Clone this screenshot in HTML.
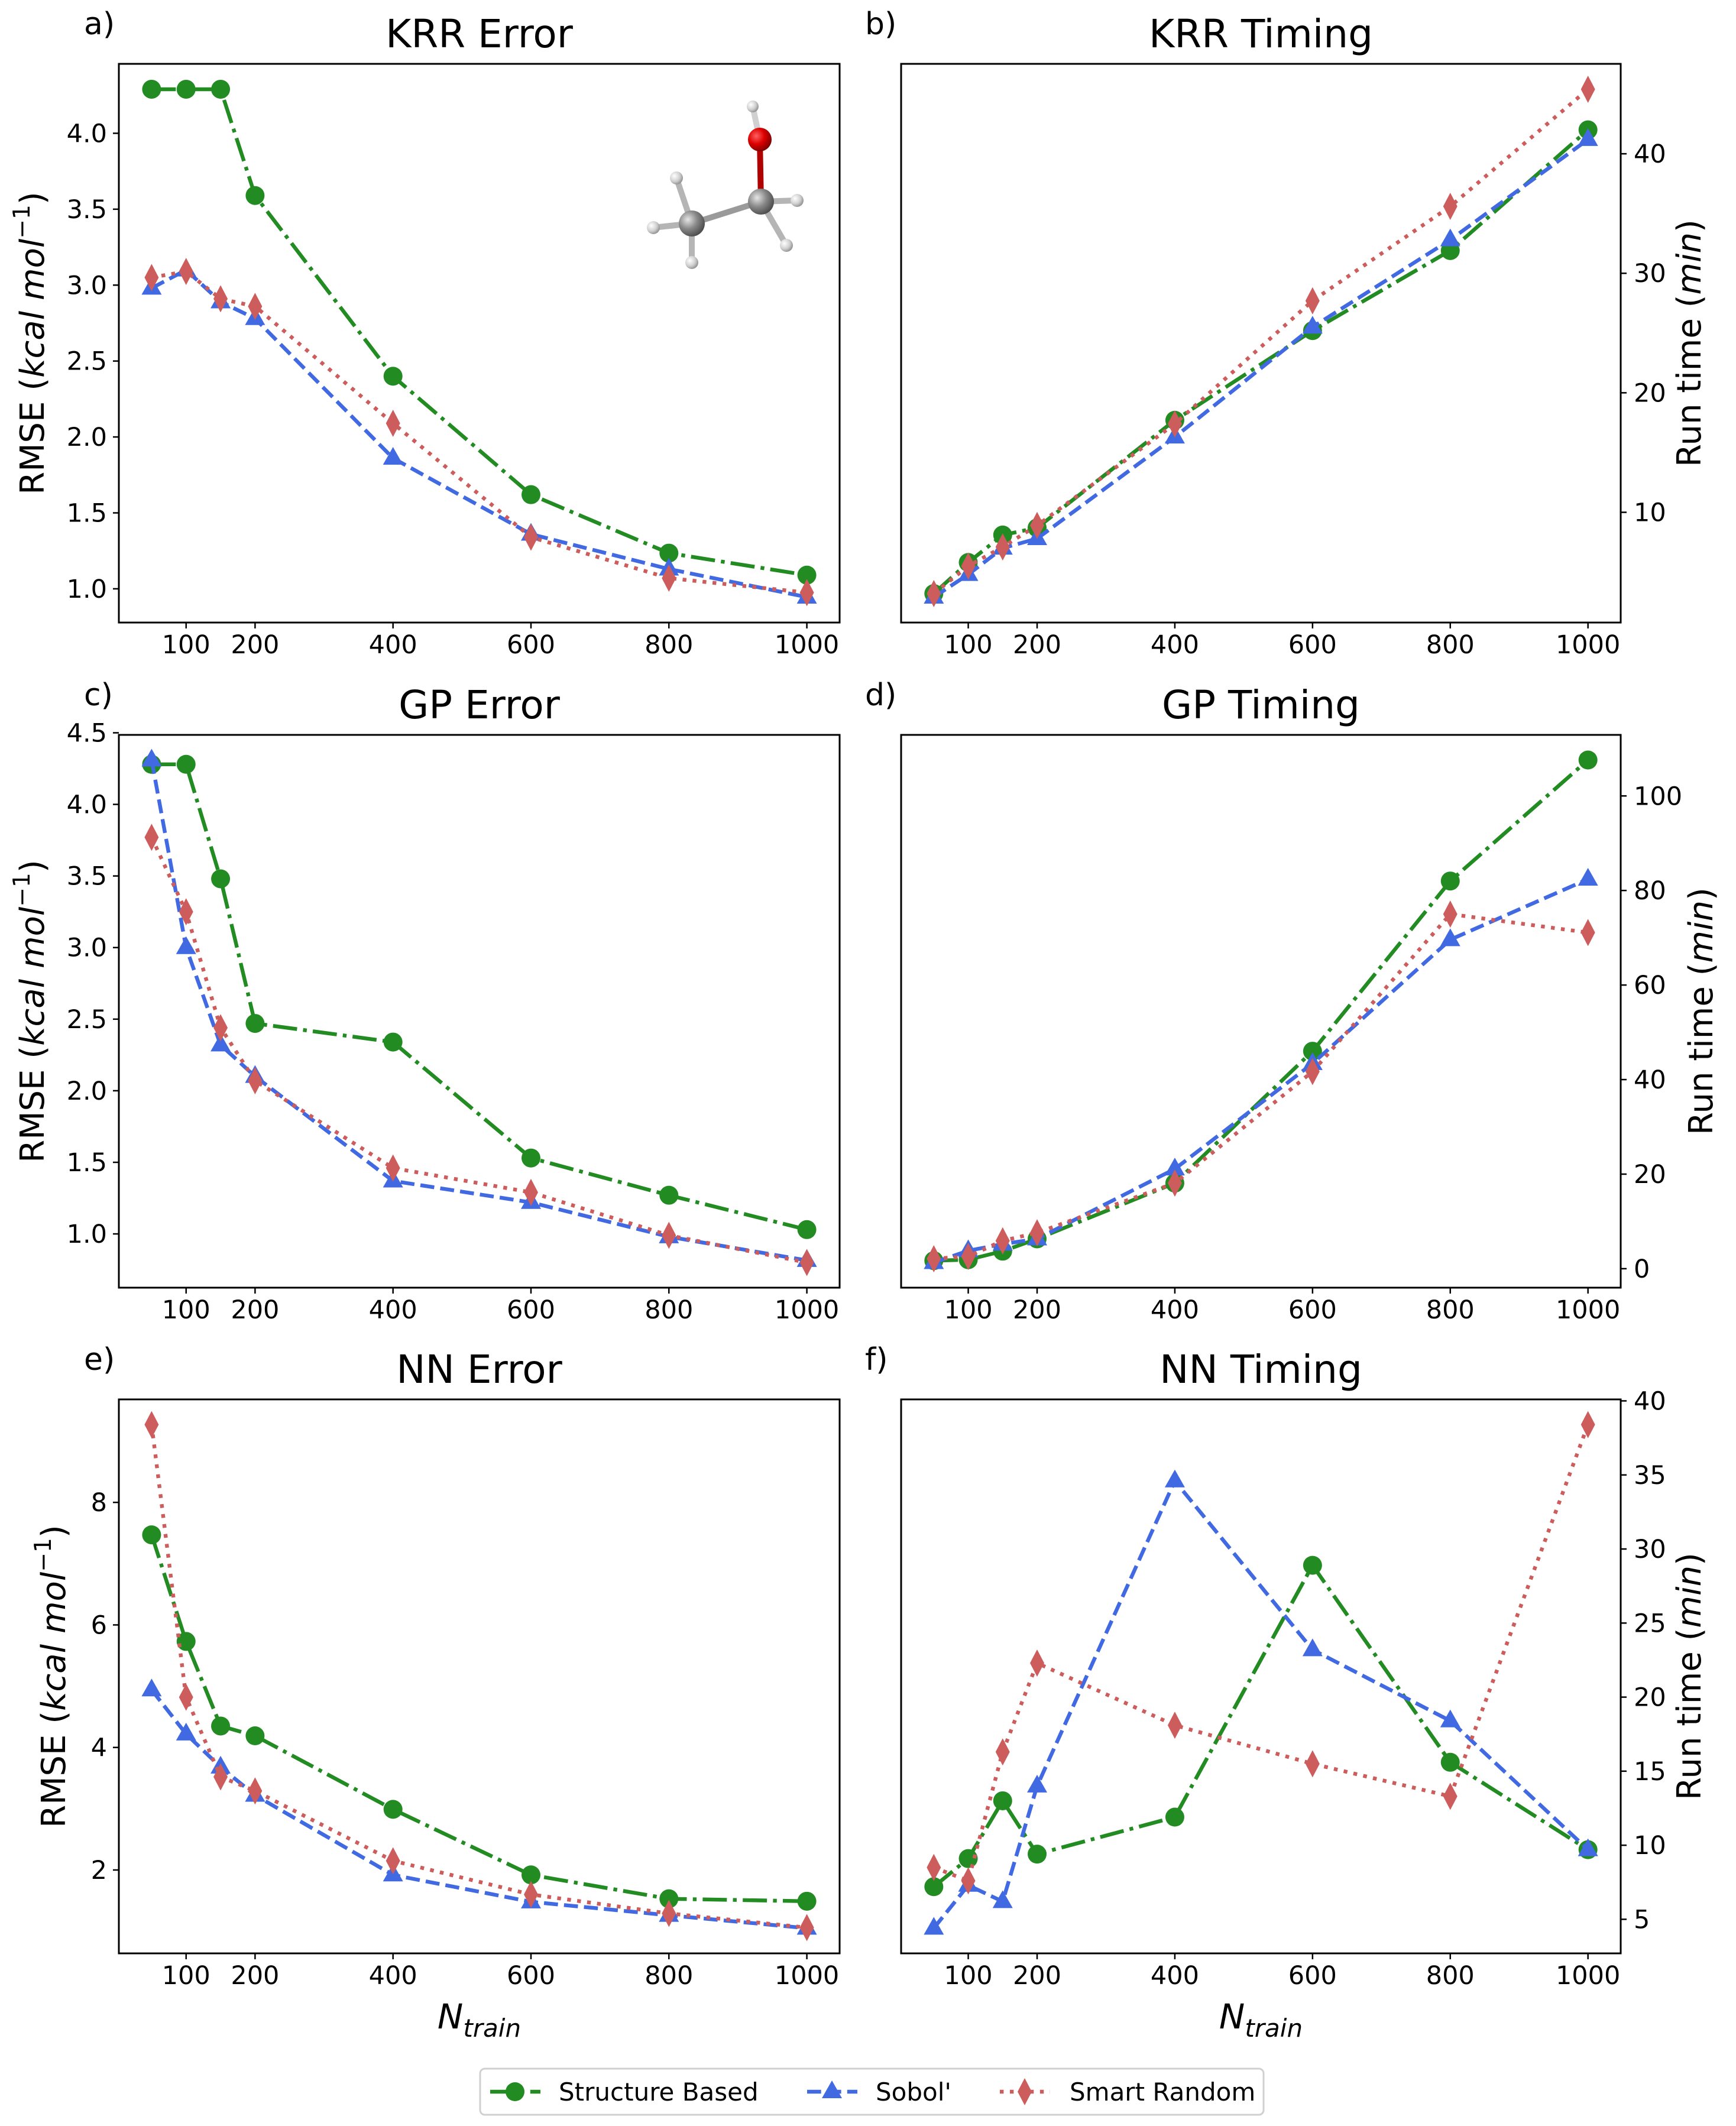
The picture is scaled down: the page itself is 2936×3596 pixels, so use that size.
<!DOCTYPE html>
<html><head><meta charset="utf-8">
<style>
html,body{margin:0;padding:0;background:#fff;}
svg{display:block;font-family:"DejaVu Sans","Liberation Sans",sans-serif;}
</style></head>
<body>
<svg id="fig" xmlns="http://www.w3.org/2000/svg" width="2936" height="3596" viewBox="0 0 2936 3596">
<rect width="2936" height="3596" fill="#fff"/>
<g id="molecule">
<defs>
<radialGradient id="gC" cx="0.35" cy="0.35" r="0.7"><stop offset="0" stop-color="#e6e6e6"/><stop offset="0.5" stop-color="#8a8a8a"/><stop offset="1" stop-color="#4a4a4a"/></radialGradient>
<radialGradient id="gH" cx="0.35" cy="0.35" r="0.7"><stop offset="0" stop-color="#ffffff"/><stop offset="0.6" stop-color="#cfcfcf"/><stop offset="1" stop-color="#8e8e8e"/></radialGradient>
<radialGradient id="gO" cx="0.35" cy="0.35" r="0.7"><stop offset="0" stop-color="#ff6060"/><stop offset="0.5" stop-color="#dd0000"/><stop offset="1" stop-color="#7a0000"/></radialGradient>
</defs>
<g stroke-width="10" stroke-linecap="round">
<line x1="1170" y1="378" x2="1287" y2="341" stroke="#9a9a9a"/>
<line x1="1287" y1="341" x2="1285" y2="236" stroke="#b00000"/>
<line x1="1285" y1="236" x2="1273" y2="180" stroke="#d0d0d0"/>
<line x1="1170" y1="378" x2="1144" y2="301" stroke="#b5b5b5"/>
<line x1="1170" y1="378" x2="1105" y2="385" stroke="#b5b5b5"/>
<line x1="1170" y1="378" x2="1170" y2="444" stroke="#b5b5b5"/>
<line x1="1287" y1="341" x2="1348" y2="339" stroke="#b5b5b5"/>
<line x1="1287" y1="341" x2="1330" y2="415" stroke="#b5b5b5"/>
</g>
<circle cx="1273" cy="180" r="10" fill="url(#gH)"/>
<circle cx="1144" cy="301" r="11" fill="url(#gH)"/>
<circle cx="1105" cy="385" r="11" fill="url(#gH)"/>
<circle cx="1170" cy="444" r="11" fill="url(#gH)"/>
<circle cx="1348" cy="339" r="11" fill="url(#gH)"/>
<circle cx="1330" cy="415" r="11" fill="url(#gH)"/>
<circle cx="1170" cy="378" r="22" fill="url(#gC)"/>
<circle cx="1287" cy="341" r="22" fill="url(#gC)"/>
<circle cx="1285" cy="236" r="20" fill="url(#gO)"/>
</g>
</svg>
<script>
// ---- data ----
const nTrain = [50, 100, 150, 200, 400, 600, 800, 1000];
const xTicks = [100, 200, 400, 600, 800, 1000];

const krrErrStruct = [4.29, 4.29, 4.29, 3.59, 2.40, 1.62, 1.235, 1.09];
const krrErrSobol  = [2.98, 3.10, 2.89, 2.78, 1.86, 1.36, 1.13, 0.945];
const krrErrSmart  = [3.05, 3.09, 2.91, 2.86, 2.09, 1.34, 1.07, 0.975];

const krrTimeStruct = [3.2, 5.8, 8.1, 8.7, 17.7, 25.2, 31.9, 42.0];
const krrTimeSobol  = [2.9, 4.8, 7.0, 7.8, 16.3, 25.5, 32.8, 41.2];
const krrTimeSmart  = [3.2, 5.5, 7.1, 8.9, 17.4, 27.7, 35.6, 45.4];

const gpErrStruct = [4.28, 4.28, 3.48, 2.47, 2.34, 1.53, 1.27, 1.03];
const gpErrSobol  = [4.31, 3.00, 2.32, 2.10, 1.37, 1.22, 0.98, 0.815];
const gpErrSmart  = [3.77, 3.25, 2.44, 2.07, 1.46, 1.29, 0.99, 0.80];

const gpTimeStruct = [1.7, 1.9, 3.7, 6.3, 18.1, 46.0, 82.0, 107.6];
const gpTimeSobol  = [1.3, 3.8, 5.2, 6.3, 21.1, 43.4, 69.6, 82.4];
const gpTimeSmart  = [2.1, 2.6, 5.9, 7.6, 18.1, 41.7, 75.0, 71.1];

const nnErrStruct = [7.47, 5.73, 4.35, 4.19, 2.99, 1.92, 1.53, 1.49];
const nnErrSobol  = [4.94, 4.22, 3.68, 3.22, 1.92, 1.48, 1.26, 1.05];
const nnErrSmart  = [9.27, 4.82, 3.52, 3.29, 2.15, 1.60, 1.29, 1.06];

const nnTimeStruct = [7.2, 9.1, 13.0, 9.4, 11.9, 28.9, 15.6, 9.7];
const nnTimeSobol  = [4.4, 7.3, 6.2, 14.0, 34.6, 23.2, 18.4, 9.7];
const nnTimeSmart  = [8.5, 7.6, 16.3, 22.3, 18.1, 15.5, 13.3, 38.4];

const ticksErrA = [1.0, 1.5, 2.0, 2.5, 3.0, 3.5, 4.0];
const ticksErrC = [1.0, 1.5, 2.0, 2.5, 3.0, 3.5, 4.0, 4.5];
const ticksErrE = [2, 4, 6, 8];
const ticksTimeB = [10, 20, 30, 40];
const ticksTimeD = [0, 20, 40, 60, 80, 100];
const ticksTimeF = [5, 10, 15, 20, 25, 30, 35, 40];

const seriesNames = ["Structure Based", "Sobol'", "Smart Random"];

// ---- drawing ----
const NS = "http://www.w3.org/2000/svg";
const svg = document.getElementById('fig');
const mol = document.getElementById('molecule');
const COLORS = ["#228B22", "#4169E1", "#CD5C5C"];
const LW = 6.4;
const DASH = [[6.4*LW,1.6*LW,1*LW,1.6*LW].join(','), [3.7*LW,1.6*LW].join(','), [1*LW,1.65*LW].join(',')];
const MARK = ['circle','triangle','diamond'];

function mk(tag, attrs, parent) {
  const e = document.createElementNS(NS, tag);
  for (const k in attrs) e.setAttribute(k, attrs[k]);
  (parent || svg).appendChild(e);
  return e;
}
function marker(g, kind, x, y, c) {
  let m;
  if (kind === 'circle') m = mk('circle', {cx:x, cy:y, r:16, fill:c}, g);
  else if (kind === 'triangle') m = mk('polygon', {points:`${x},${y-19} ${x+17},${y+11} ${x-17},${y+11}`, fill:c}, g);
  else m = mk('polygon', {points:`${x},${y-23} ${x+12},${y} ${x},${y+23} ${x-12},${y}`, fill:c}, g);
  return m;
}

function panel(p) {
  const g = mk('g', {});
  
  
  const all = [].concat(...p.series);
  const mn = Math.min(...all), mx = Math.max(...all), pad = (mx - mn) * 0.05;
  const y0 = mn - pad, y1 = mx + pad;
  const x0 = 2.5, x1 = 1047.5;
  const X = v => p.L + (v - x0) / (x1 - x0) * (p.R - p.L);
  const Y = v => p.B - (v - y0) / (y1 - y0) * (p.B - p.T);

  p.series.forEach((s, si) => {
    const sg = mk('g', {}, g);
    
    
    const pts = s.map((v, i) => X(nTrain[i]).toFixed(1) + ',' + Y(v).toFixed(1)).join(' ');
    const ln = mk('polyline', {points:pts, fill:'none', stroke:COLORS[si], 'stroke-width':LW, 'stroke-dasharray':DASH[si]}, sg);
    
    
    s.forEach((v, i) => {
      const m = marker(sg, MARK[si], X(nTrain[i]), Y(v), COLORS[si]);
      
      
    });
  });

  const fr = mk('rect', {x:p.L, y:p.T, width:p.R-p.L, height:p.B-p.T, fill:'none', stroke:'#000', 'stroke-width':3}, g);
  
  

  xTicks.forEach(t => {
    const x = X(t);
    mk('line', {x1:x, y1:p.B, x2:x, y2:p.B+10, stroke:'#000', 'stroke-width':2.5}, g);
    const tx = mk('text', {x:x, y:p.B+52, 'font-size':43, 'text-anchor':'middle', fill:'#000'}, g);
    tx.textContent = t;
    
    
  });
  p.yTicks.forEach(t => {
    const y = Y(t);
    const txt = p.dec ? t.toFixed(1) : String(t);
    if (p.right) {
      mk('line', {x1:p.R, y1:y, x2:p.R+10, y2:y, stroke:'#000', 'stroke-width':2.5}, g);
      const tx = mk('text', {x:p.R+22, y:y+15, 'font-size':43, 'text-anchor':'start', fill:'#000'}, g);
      tx.textContent = txt;
      
      
    } else {
      mk('line', {x1:p.L, y1:y, x2:p.L-10, y2:y, stroke:'#000', 'stroke-width':2.5}, g);
      const tx = mk('text', {x:p.L-20, y:y+15, 'font-size':43, 'text-anchor':'end', fill:'#000'}, g);
      tx.textContent = txt;
      
      
    }
  });
  const ti = mk('text', {x:(p.L+p.R)/2, y:p.T-28, 'font-size':66, 'text-anchor':'middle', fill:'#000'}, g);
  ti.textContent = p.title;
  
  
  const le = mk('text', {x:p.letterX, y:p.T-50, 'font-size':52, fill:'#000'}, g);
  le.textContent = p.letter;
  
  
  const cy = (p.T + p.B) / 2;
  const yl = mk('text', {x:p.ylabX, y:cy, 'font-size':56, 'text-anchor':'middle', fill:'#000', transform:`rotate(-90 ${p.ylabX} ${cy})`}, g);
  
  
  if (p.right) {
    yl.innerHTML = 'Run time (<tspan font-style="italic">min</tspan>)';
  } else {
    yl.innerHTML = 'RMSE (<tspan font-style="italic">kcal mol</tspan><tspan font-size="39" dy="-24">−1</tspan><tspan dy="24">)</tspan>';
  }
  if (p.xlabel) {
    const xl = mk('text', {x:(p.L+p.R)/2, y:p.B+127, 'font-size':58, 'text-anchor':'middle', fill:'#000', 'font-style':'italic'}, g);
    xl.innerHTML = 'N<tspan font-size="42" dy="14">train</tspan>';
    
    
  }
}

const C1 = {L:201, R:1420}, C2 = {L:1524, R:2741};
const R1 = {T:108, B:1053}, R2 = {T:1243, B:2178}, R3 = {T:2367, B:3304};

panel({name:'panel-krr-error', ...C1, ...R1, series:[krrErrStruct, krrErrSobol, krrErrSmart], yTicks:ticksErrA, dec:true, title:'KRR Error', letter:'a)', letterX:142, ylabX:74});
panel({name:'panel-krr-timing', ...C2, ...R1, series:[krrTimeStruct, krrTimeSobol, krrTimeSmart], yTicks:ticksTimeB, right:true, title:'KRR Timing', letter:'b)', letterX:1463, ylabX:2876});
panel({name:'panel-gp-error', ...C1, ...R2, series:[gpErrStruct, gpErrSobol, gpErrSmart], yTicks:ticksErrC, dec:true, title:'GP Error', letter:'c)', letterX:142, ylabX:74});
panel({name:'panel-gp-timing', ...C2, ...R2, series:[gpTimeStruct, gpTimeSobol, gpTimeSmart], yTicks:ticksTimeD, right:true, title:'GP Timing', letter:'d)', letterX:1463, ylabX:2896});
panel({name:'panel-nn-error', ...C1, ...R3, series:[nnErrStruct, nnErrSobol, nnErrSmart], yTicks:ticksErrE, title:'NN Error', letter:'e)', letterX:142, ylabX:110, xlabel:true});
panel({name:'panel-nn-timing', ...C2, ...R3, series:[nnTimeStruct, nnTimeSobol, nnTimeSmart], yTicks:ticksTimeF, right:true, title:'NN Timing', letter:'f)', letterX:1463, ylabX:2876, xlabel:true});

svg.appendChild(mol);

const lg = mk('g', {});


mk('rect', {x:812, y:3499, width:1325, height:78, rx:8, fill:'#fff', stroke:'#d0d0d0', 'stroke-width':3}, lg);
const legX = [829, 1365, 1691], legT = [945, 1481, 1809];
seriesNames.forEach((n, i) => {
  const e = mk('g', {}, lg);
  
  
  mk('line', {x1:legX[i], y1:3538, x2:legX[i]+85, y2:3538, stroke:COLORS[i], 'stroke-width':LW, 'stroke-dasharray':DASH[i]}, e);
  marker(e, MARK[i], legX[i]+42, 3538, COLORS[i]);
  const t = mk('text', {x:legT[i], y:3553, 'font-size':42, fill:'#000'}, e);
  t.textContent = n;
});
</script>
</body></html>
